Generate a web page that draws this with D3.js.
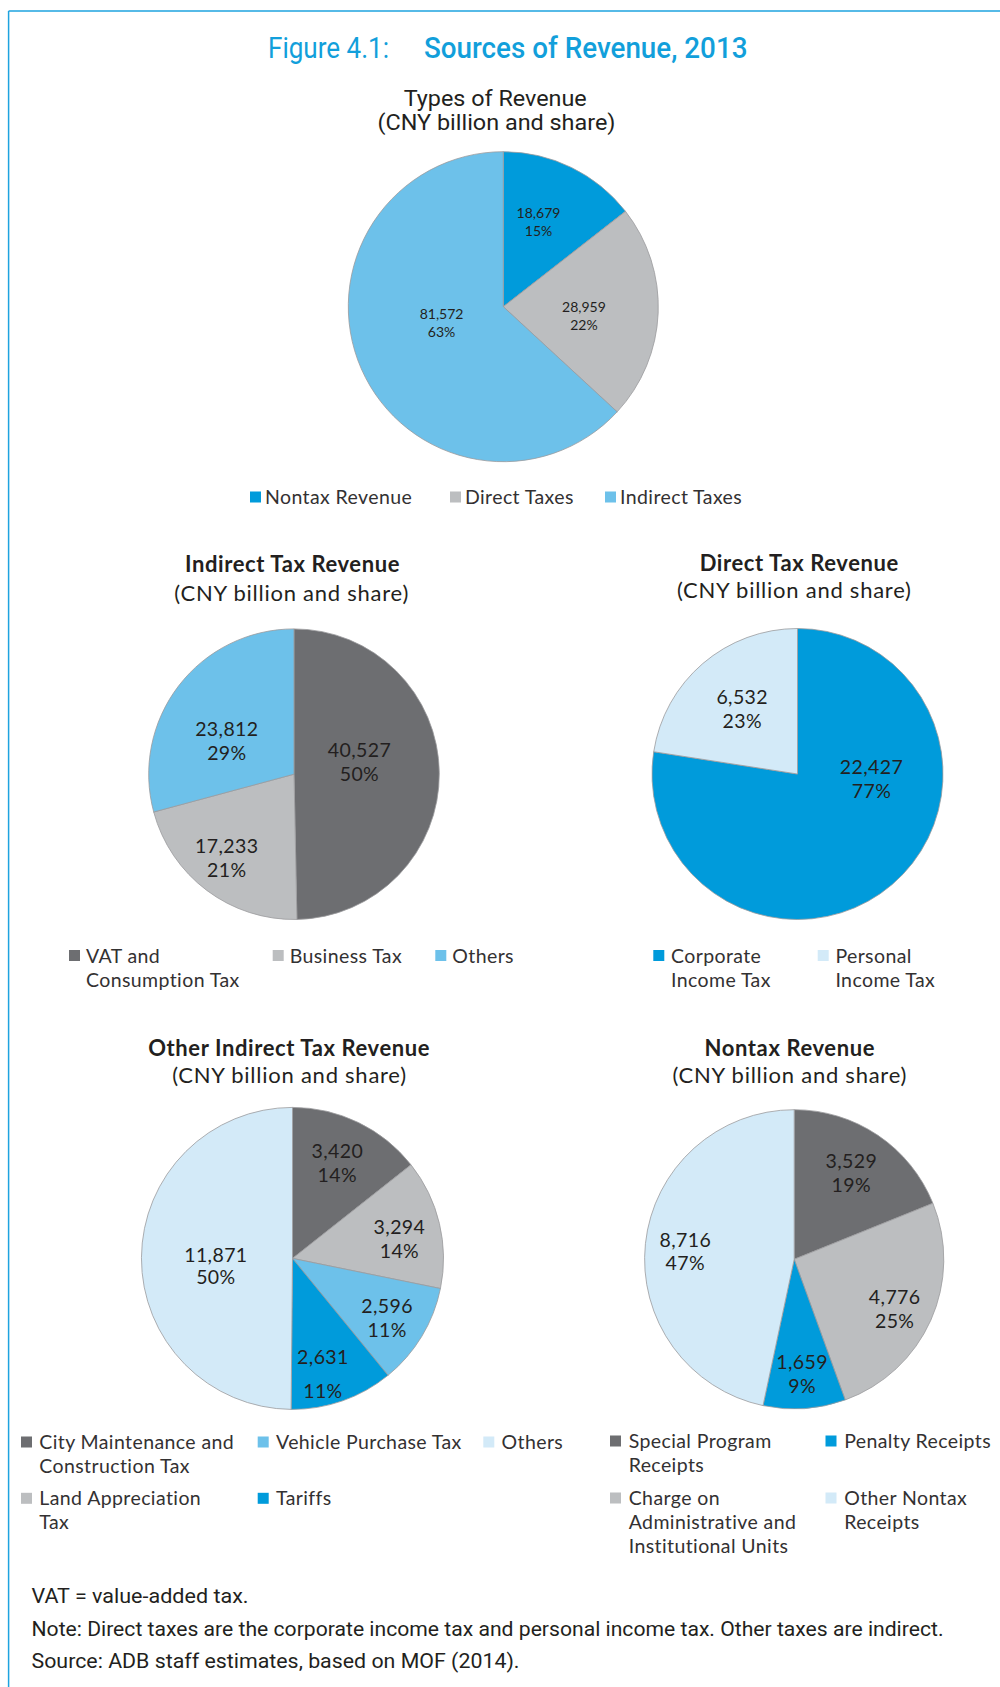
<!DOCTYPE html>
<html><head><meta charset="utf-8">
<script src="https://cdn.jsdelivr.net/npm/d3@7"></script>
<style>
body{margin:0;background:#fff;}
svg text{font-family:Lato,"Open Sans",sans-serif;fill:#231f20;}
svg text.narrow{font-family:Roboto,"Liberation Sans Narrow",sans-serif;letter-spacing:0;}
</style></head><body>
<svg id="chart" width="1000" height="1687"></svg>
<script>
// ---------- DATA ----------
const revenueCategories = ["Nontax Revenue", "Direct Taxes", "Indirect Taxes"];
const revenueValues = [18679, 28959, 81572];
const revenueShares = ["15%", "22%", "63%"];

const indirectCategories = ["VAT and\nConsumption Tax", "Business Tax", "Others"];
const indirectValues = [40527, 17233, 23812];
const indirectShares = ["50%", "21%", "29%"];

const directCategories = ["Corporate\nIncome Tax", "Personal\nIncome Tax"];
const directValues = [22427, 6532];
const directShares = ["77%", "23%"];

const otherIndirectCategories = ["City Maintenance and\nConstruction Tax", "Land Appreciation\nTax", "Vehicle Purchase Tax", "Tariffs", "Others"];
const otherIndirectValues = [3420, 3294, 2596, 2631, 11871];
const otherIndirectShares = ["14%", "14%", "11%", "11%", "50%"];

const nontaxCategories = ["Special Program\nReceipts", "Charge on\nAdministrative and\nInstitutional Units", "Penalty Receipts", "Other Nontax\nReceipts"];
const nontaxValues = [3529, 4776, 1659, 8716];
const nontaxShares = ["19%", "25%", "9%", "47%"];

const figureLabel = "Figure 4.1:";
const figureTitle = "Sources of Revenue, 2013";
const subtitleText = "(CNY billion and share)";
const footnotes = [
  "VAT = value-added tax.",
  "Note: Direct taxes are the corporate income tax and personal income tax. Other taxes are indirect.",
  "Source: ADB staff estimates, based on MOF (2014)."
];

// ---------- STYLE / LAYOUT ----------
const C = {dark:"#6d6e71", grey:"#bcbec0", light:"#6dc1ea", blue:"#009bdb", pale:"#d3eaf8", frame:"#1ea3df"};
const fmt = d3.format(",");

const charts = [
  {cats:revenueCategories, vals:revenueValues, shares:revenueShares, colors:[C.blue,C.grey,C.light],
   cx:503.3, cy:306.7, r:155,
   title:"Types of Revenue", narrow:true, titleX:495.2, titleY:98, titleW:183, subX:496.5, subY:122.5, subW:238, titleSize:22,
   labelT:[0.432,0.552,0.539], labelK:[0.594,0.524,0.412], labelSize:14, labelSpacing:0, labelGap:[18,18,18],
   legCols:[250,450,605], legRows:[497], legOff:15},
  {cats:indirectCategories, vals:indirectValues, shares:indirectShares, colors:[C.dark,C.grey,C.light],
   cx:294, cy:774.2, r:145.3,
   title:"Indirect Tax Revenue", titleX:292.5, titleY:564.3, subX:291.7, subY:592.7, titleSize:22,
   labelT:[0.444,0.524,0.397], labelK:[0.458,0.74,0.517], labelSize:19.5, labelSpacing:0.4, labelGap:[24,24,24],
   legCols:[69,272.7,435.3], legRows:[955.5], legOff:17},
  {cats:directCategories, vals:directValues, shares:directShares, colors:[C.blue,C.pale],
   cx:797.5, cy:774, r:145.5,
   title:"Direct Tax Revenue", titleX:799.3, titleY:562.7, subX:794.3, subY:590, titleSize:22,
   labelT:[0.337,0.501], labelK:[0.51,0.585], labelSize:19.5, labelSpacing:0.4, labelGap:[24,24],
   legCols:[653.3,817.7], legRows:[955.5], legOff:17.7},
  {cats:otherIndirectCategories, vals:otherIndirectValues, shares:otherIndirectShares, colors:[C.dark,C.grey,C.light,C.blue,C.pale],
   cx:292.5, cy:1258.4, r:151,
   title:"Other Indirect Tax Revenue", titleX:289.2, titleY:1047.9, subX:289.5, subY:1075.4, titleSize:22,
   labelT:[0.485,0.56,0.525,0.615,0.467], labelK:[0.70,0.72,0.74,0.79,0.51], labelSize:19.5, labelSpacing:0.4, labelGap:[24,23.5,24.3,34,22.5],
   legCols:[21,257.7,483.3], legRows:[1442,1498.3], legOff:18.3},
  {cats:nontaxCategories, vals:nontaxValues, shares:nontaxShares, colors:[C.dark,C.grey,C.blue,C.pale],
   cx:794.2, cy:1259.3, r:149.6,
   title:"Nontax Revenue", titleX:789.8, titleY:1047.9, subX:789.8, subY:1075.4, titleSize:22,
   labelT:[0.494,0.526,0.5,0.489], labelK:[0.69,0.75,0.77,0.73], labelSize:19.5, labelSpacing:0.4, labelGap:[24,24,24,23.3],
   legCols:[610,825.5], legRows:[1441,1498], legOff:18.7}
];

const svg = d3.select("#chart");

// frame
svg.append("line").attr("x1",8.6).attr("x2",1000).attr("y1",11).attr("y2",11)
  .attr("stroke",C.frame).attr("stroke-width",1.5);
svg.append("line").attr("x1",8.6).attr("x2",8.6).attr("y1",11).attr("y2",1687)
  .attr("stroke",C.frame).attr("stroke-width",1.5);

// main title
svg.append("text").attr("class","narrow").attr("x",268).attr("y",46.8).attr("dy","0.36em")
  .attr("font-size",30).attr("textLength",121).attr("lengthAdjust","spacingAndGlyphs")
  .style("fill","#129fdb").text(figureLabel);
svg.append("text").attr("class","narrow").attr("x",424).attr("y",46.8).attr("dy","0.36em")
  .attr("font-size",30).attr("font-weight",500).attr("textLength",323.5).attr("lengthAdjust","spacingAndGlyphs")
  .style("fill","#129fdb").text(figureTitle);

charts.forEach(ch => {
  const g = svg.append("g");
  const data = ch.vals.map((v,i)=>({cat:ch.cats[i], value:v, share:ch.shares[i], color:ch.colors[i], i}));
  const pie = d3.pie().sort(null).value(d=>d.value);
  const arcs = pie(data);
  const arc = d3.arc().innerRadius(0).outerRadius(ch.r);

  // titles
  const t = g.append("text").attr("x",ch.titleX).attr("y",ch.titleY).attr("dy","0.36em")
    .attr("text-anchor","middle").attr("font-size",ch.titleSize).text(ch.title);
  const s = g.append("text").attr("x",ch.subX).attr("y",ch.subY).attr("dy","0.36em")
    .attr("text-anchor","middle").attr("font-size",ch.titleSize).text(subtitleText);
  if (ch.narrow) {
    t.attr("class","narrow").attr("textLength",ch.titleW).attr("lengthAdjust","spacingAndGlyphs");
    s.attr("class","narrow").attr("textLength",ch.subW).attr("lengthAdjust","spacingAndGlyphs");
  } else {
    t.attr("font-weight",700).style("letter-spacing","0.6px");
    s.style("letter-spacing","0.75px");
  }

  const pg = g.append("g").attr("transform",`translate(${ch.cx},${ch.cy})`);
  pg.selectAll("path").data(arcs).join("path")
    .attr("d",arc).attr("fill",d=>d.data.color)
    .attr("stroke","#9a9b9d").attr("stroke-width",0.8);

  // labels
  arcs.forEach((a,i)=>{
    const ang = a.startAngle + ch.labelT[i]*(a.endAngle-a.startAngle);
    const lr = ch.labelK[i]*ch.r;
    const p = d3.arc().innerRadius(lr).outerRadius(lr).startAngle(ang).endAngle(ang).centroid();
    const gap = ch.labelGap[i];
    const lt = pg.append("text").attr("text-anchor","middle").attr("font-size",ch.labelSize)
      .style("letter-spacing",ch.labelSpacing+"px").style("fill","#231f20");
    lt.append("tspan").attr("x",p[0]).attr("y",p[1]-gap/2).attr("dy","0.36em").text(fmt(a.data.value));
    lt.append("tspan").attr("x",p[0]).attr("y",p[1]+gap/2).attr("dy","0.36em").text(a.data.share);
  });

  // legend (column-major)
  const nRows = ch.legRows.length;
  data.forEach((d,i)=>{
    const col = Math.floor(i/nRows), row = i % nRows;
    const x = ch.legCols[col], y = ch.legRows[row];
    g.append("rect").attr("x",x).attr("y",y-5.5).attr("width",11).attr("height",11).attr("fill",d.color);
    const lt = g.append("text").attr("font-size",19.5).style("letter-spacing","0.4px").style("fill","#333132");
    d.cat.split("\n").forEach((line,j)=>{
      lt.append("tspan").attr("x",x+ch.legOff).attr("y",y+j*24).attr("dy","0.36em").text(line);
    });
  });
});

// footnotes
const fnY = [1596, 1629, 1661];
const fnW = [217, 912, 488];
footnotes.forEach((f,i)=>{
  svg.append("text").attr("class","narrow").attr("x",31.5).attr("y",fnY[i]).attr("dy","0.36em")
    .attr("font-size",20).attr("textLength",fnW[i]).attr("lengthAdjust","spacingAndGlyphs")
    .style("fill","#231f20").text(f);
});
</script>
</body></html>
